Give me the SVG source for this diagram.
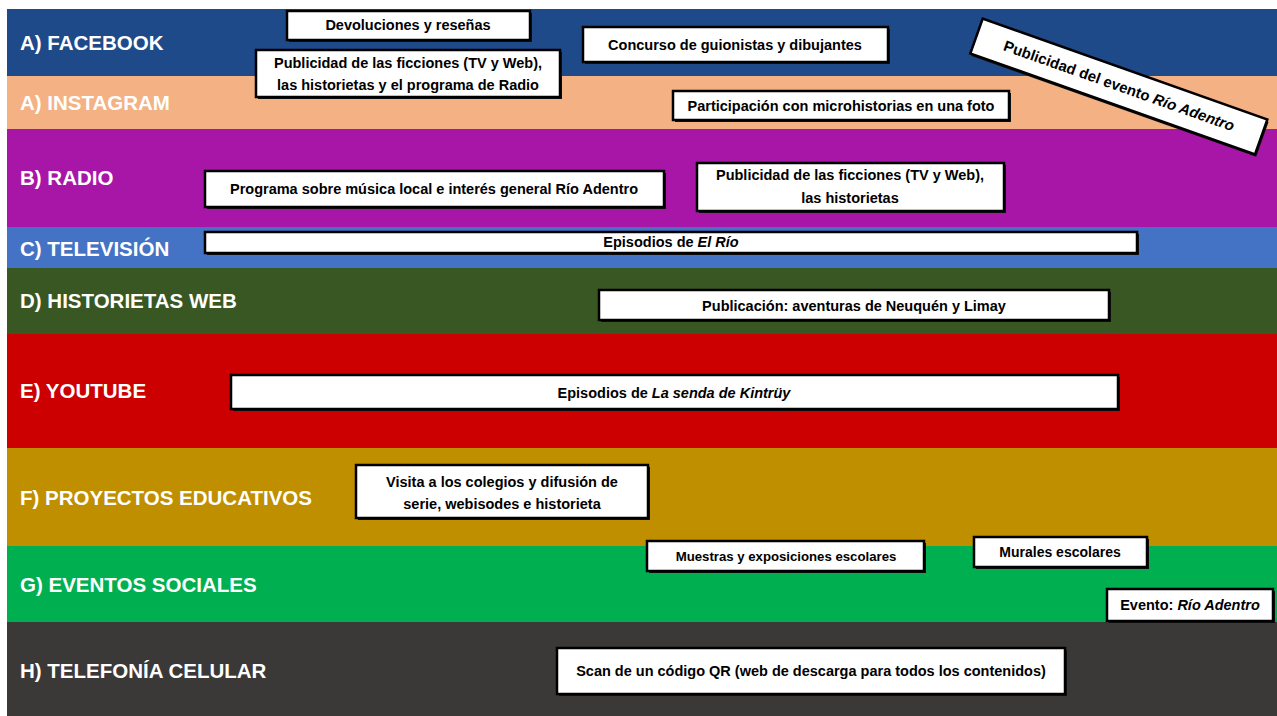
<svg xmlns="http://www.w3.org/2000/svg" width="1277" height="716" viewBox="0 0 1277 716">
<style>
.lbl{font-family:"Liberation Sans",Arial,sans-serif;font-weight:bold;font-size:20.5px;fill:#ffffff}
.box{fill:#ffffff;stroke:#000000;stroke-width:2.5}
.sh{fill:#111111}
.t{font-family:"Liberation Sans",Arial,sans-serif;font-weight:bold;font-size:14.5px;fill:#000000;text-anchor:middle}
.i{font-style:italic}
</style>
<rect x="0" y="0" width="1277" height="716" fill="#ffffff"/>
<g id="bands">
<g id="band-facebook"><rect x="7" y="9" width="1270" height="67" fill="#1f4a8a"/><text class="lbl" x="20" y="50">A) FACEBOOK</text></g>
<g id="band-instagram"><rect x="7" y="76" width="1270" height="53" fill="#f4b183"/><text class="lbl" x="20" y="110">A) INSTAGRAM</text></g>
<g id="band-radio"><rect x="7" y="129" width="1270" height="98" fill="#a816a8"/><text class="lbl" x="20" y="185">B) RADIO</text></g>
<g id="band-tv"><rect x="7" y="227" width="1270" height="41" fill="#4472c4"/><text class="lbl" x="20" y="256">C) TELEVISIÓN</text></g>
<g id="band-historietas"><rect x="7" y="268" width="1270" height="66" fill="#385723"/><text class="lbl" x="20" y="308">D) HISTORIETAS WEB</text></g>
<g id="band-youtube"><rect x="7" y="334" width="1270" height="114" fill="#cc0000"/><text class="lbl" x="20" y="398">E) YOUTUBE</text></g>
<g id="band-proyectos"><rect x="7" y="448" width="1270" height="98" fill="#bf8f00"/><text class="lbl" x="20" y="505">F) PROYECTOS EDUCATIVOS</text></g>
<g id="band-eventos"><rect x="7" y="546" width="1270" height="76" fill="#00b050"/><text class="lbl" x="20" y="592">G) EVENTOS SOCIALES</text></g>
<g id="band-telefonia"><rect x="7" y="622" width="1270" height="94" fill="#3b3838"/><text class="lbl" x="20" y="678">H) TELEFONÍA CELULAR</text></g>
</g>
<g id="connectors"/>
<g id="nodes">
<g id="n-devoluciones"><rect class="sh" x="289" y="13" width="243" height="29"/><rect class="box" x="287" y="11" width="243" height="29"/><text class="t" x="408" y="30">Devoluciones y reseñas</text></g>
<g id="n-fb-publicidad"><rect class="sh" x="258" y="52" width="304" height="47"/><rect class="box" x="256" y="50" width="304" height="47"/><text class="t" x="408" y="68">Publicidad de las ficciones (TV y Web),</text><text class="t" x="408" y="90">las historietas  y el programa de Radio</text></g>
<g id="n-concurso"><rect class="sh" x="585" y="29" width="305" height="35"/><rect class="box" x="583" y="27" width="305" height="35"/><text class="t" x="735" y="50">Concurso  de guionistas  y dibujantes</text></g>
<g id="n-evento-pub" transform="translate(1119 86) rotate(19.5)"><rect class="sh" x="-149" y="-16" width="302" height="37"/><rect class="box" x="-151" y="-18" width="302" height="37"/><text class="t" x="0" y="5" style="font-size:15px">Publicidad del evento <tspan class="i">Río Adentro</tspan></text></g>
<g id="n-participacion"><rect class="sh" x="675" y="93" width="336" height="29"/><rect class="box" x="673" y="91" width="336" height="29"/><text class="t" x="841" y="111">Participación con microhistorias  en una foto</text></g>
<g id="n-programa"><rect class="sh" x="207" y="173" width="459" height="36"/><rect class="box" x="205" y="171" width="459" height="36"/><text class="t" x="434" y="194">Programa sobre música  local e interés general Río Adentro</text></g>
<g id="n-radio-publicidad"><rect class="sh" x="699" y="165" width="307" height="48"/><rect class="box" x="697" y="163" width="307" height="48"/><text class="t" x="850" y="180">Publicidad de las ficciones (TV y Web),</text><text class="t" x="850" y="203">las historietas</text></g>
<g id="n-elrio"><rect class="sh" x="207" y="234" width="932" height="21"/><rect class="box" x="205" y="232" width="932" height="21"/><text class="t" x="671" y="247">Episodios  de <tspan class="i">El Río</tspan></text></g>
<g id="n-publicacion"><rect class="sh" x="601" y="292" width="510" height="30"/><rect class="box" x="599" y="290" width="510" height="30"/><text class="t" x="854" y="311">Publicación: aventuras de Neuquén y Limay</text></g>
<g id="n-kintruy"><rect class="sh" x="233" y="377" width="887" height="34"/><rect class="box" x="231" y="375" width="887" height="34"/><text class="t" x="674" y="398">Episodios  de <tspan class="i">La senda  de Kintrüy</tspan></text></g>
<g id="n-visita"><rect class="sh" x="358" y="467" width="292" height="53"/><rect class="box" x="356" y="465" width="292" height="53"/><text class="t" x="502" y="487">Visita a los colegios y difusión  de</text><text class="t" x="502" y="509">serie, webisodes e historieta</text></g>
<g id="n-muestras"><rect class="sh" x="649" y="543" width="277" height="30"/><rect class="box" x="647" y="541" width="277" height="30"/><text class="t" x="786" y="561" style="font-size:13.2px">Muestras y exposiciones escolares</text></g>
<g id="n-murales"><rect class="sh" x="976" y="539" width="173" height="30"/><rect class="box" x="974" y="537" width="173" height="30"/><text class="t" x="1060" y="557" style="font-size:14px">Murales escolares</text></g>
<g id="n-evento"><rect class="sh" x="1109" y="591" width="166" height="32"/><rect class="box" x="1107" y="589" width="166" height="32"/><text class="t" x="1190" y="610">Evento:  <tspan class="i">Río Adentro</tspan></text></g>
<g id="n-scan"><rect class="sh" x="559" y="650" width="508" height="46"/><rect class="box" x="557" y="648" width="508" height="46"/><text class="t" x="811" y="676">Scan de un código QR (web de descarga para todos  los  contenidos)</text></g>
</g>
</svg>
